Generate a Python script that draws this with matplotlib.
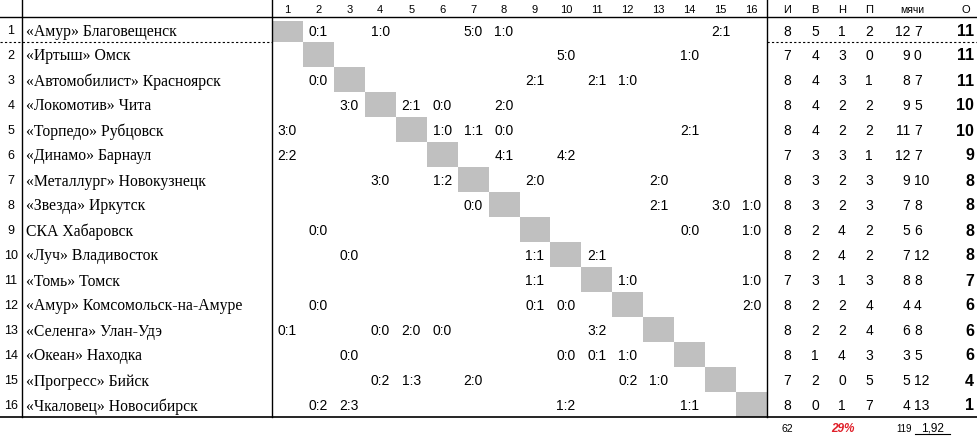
import matplotlib.pyplot as plt

teams = ["«Амур» Благовещенск", "«Иртыш» Омск", "«Автомобилист» Красноярск",
         "«Локомотив» Чита", "«Торпедо» Рубцовск", "«Динамо» Барнаул",
         "«Металлург» Новокузнецк", "«Звезда» Иркутск", "СКА Хабаровск",
         "«Луч» Владивосток", "«Томь» Томск", "«Амур» Комсомольск-на-Амуре",
         "«Селенга» Улан-Удэ", "«Океан» Находка", "«Прогресс» Бийск",
         "«Чкаловец» Новосибирск"]

# (строка, столбец, счёт)
scores = [
    (1, 2, "0:1"), (1, 4, "1:0"), (1, 7, "5:0"), (1, 8, "1:0"), (1, 15, "2:1"),
    (2, 10, "5:0"), (2, 14, "1:0"),
    (3, 2, "0:0"), (3, 9, "2:1"), (3, 11, "2:1"), (3, 12, "1:0"),
    (4, 3, "3:0"), (4, 5, "2:1"), (4, 6, "0:0"), (4, 8, "2:0"),
    (5, 1, "3:0"), (5, 6, "1:0"), (5, 7, "1:1"), (5, 8, "0:0"), (5, 14, "2:1"),
    (6, 1, "2:2"), (6, 8, "4:1"), (6, 10, "4:2"),
    (7, 4, "3:0"), (7, 6, "1:2"), (7, 9, "2:0"), (7, 13, "2:0"),
    (8, 7, "0:0"), (8, 13, "2:1"), (8, 15, "3:0"), (8, 16, "1:0"),
    (9, 2, "0:0"), (9, 14, "0:0"), (9, 16, "1:0"),
    (10, 3, "0:0"), (10, 9, "1:1"), (10, 11, "2:1"),
    (11, 9, "1:1"), (11, 12, "1:0"), (11, 16, "1:0"),
    (12, 2, "0:0"), (12, 9, "0:1"), (12, 10, "0:0"), (12, 16, "2:0"),
    (13, 1, "0:1"), (13, 4, "0:0"), (13, 5, "2:0"), (13, 6, "0:0"), (13, 11, "3:2"),
    (14, 3, "0:0"), (14, 10, "0:0"), (14, 11, "0:1"), (14, 12, "1:0"),
    (15, 4, "0:2"), (15, 5, "1:3"), (15, 7, "2:0"), (15, 12, "0:2"), (15, 13, "1:0"),
    (16, 2, "0:2"), (16, 3, "2:3"), (16, 10, "1:2"), (16, 14, "1:1"),
]

games = [8, 7, 8, 8, 8, 7, 8, 8, 8, 8, 7, 8, 8, 8, 7, 8]
wins = [5, 4, 4, 4, 4, 3, 3, 3, 2, 2, 3, 2, 2, 1, 2, 0]
draws = [1, 3, 3, 2, 2, 3, 2, 2, 4, 4, 1, 2, 2, 4, 0, 1]
losses = [2, 0, 1, 2, 2, 1, 3, 3, 2, 2, 3, 4, 4, 3, 5, 7]
goals_for = [12, 9, 8, 9, 11, 12, 9, 7, 5, 7, 8, 4, 6, 3, 5, 4]
goals_against = [7, 0, 7, 5, 7, 7, 10, 8, 6, 12, 8, 4, 8, 5, 12, 13]
points = [11, 11, 11, 10, 10, 9, 8, 8, 8, 8, 7, 6, 6, 6, 4, 1]

fig = plt.figure(figsize=(9.78, 4.37), dpi=100)
ax = fig.add_axes([0, 0, 1, 1])
ax.set_xlim(0, 978)
ax.set_ylim(437, 0)
ax.axis("off")

sans = "Liberation Sans"
serif = "Liberation Serif"
gx0, cw = 272, 30.94
n = len(teams)
VA = "center_baseline"

def row_top(i):
    return 17 if i == 1 else 42 + (i - 2) * 25

def row_mid(i):
    return 30 if i == 1 else row_top(i) + 12.5

# линии
ax.plot([0, 978], [17, 17], color="black", lw=1)
ax.plot([0, 978], [417, 417], color="black", lw=1.2)
for x in [22, gx0, gx0 + 16 * cw]:
    ax.plot([x, x], [0, 417], color="black", lw=1)
ax.plot([0, gx0], [42, 42], color="black", lw=0.8, ls=(0, (2, 2)))
ax.plot([gx0 + 16 * cw, 978], [42, 42], color="black", lw=0.8, ls=(0, (2, 2)))

# заголовки
for j in range(1, 17):
    ax.text(gx0 + (j - 0.5) * cw, 9, str(j), fontsize=8, family=sans, ha="center", va=VA)
stat_x = [787, 815, 842, 869]
for x, h in zip(stat_x, ["И", "В", "Н", "П"]):
    ax.text(x, 9, h, fontsize=8, family=sans, ha="center", va=VA)
ax.text(912, 9, "мячи", fontsize=7.5, family=sans, ha="center", va=VA)
ax.text(966, 9, "О", fontsize=8, family=sans, ha="center", va=VA)

for i in range(1, n + 1):
    y = row_mid(i)
    ax.text(11, y, str(i), fontsize=9, family=sans, ha="center", va=VA)
    ax.text(26, y, teams[i - 1], fontsize=11.3, family=serif, ha="left", va=VA)
    top = 21 if i == 1 else row_top(i)
    ax.add_patch(plt.Rectangle((gx0 + (i - 1) * cw, top), cw, row_top(i) + 25 - top if i > 1 else 42 - top,
                               color="#c0c0c0", lw=0))
    vals = [games[i - 1], wins[i - 1], draws[i - 1], losses[i - 1]]
    for x, v in zip(stat_x, vals):
        ax.text(x, y, str(v), fontsize=10, family=sans, ha="center", va=VA)
    ax.text(910, y, str(goals_for[i - 1]), fontsize=10, family=sans, ha="right", va=VA)
    ax.text(914, y, str(goals_against[i - 1]), fontsize=10, family=sans, ha="left", va=VA)
    ax.text(974, y, str(points[i - 1]), fontsize=11.5, family=sans, weight="bold", ha="right", va=VA)

for r, c, s in scores:
    ax.text(gx0 + (c - 0.5) * cw, row_mid(r), s, fontsize=10, family=sans, ha="center", va=VA)

# итоги
ax.text(787, 428, "62", fontsize=7.5, family=sans, ha="center", va=VA)
ax.text(843, 428, "29%", fontsize=8.5, family=sans, color="#e0202a", weight="bold", style="italic",
        ha="center", va=VA)
ax.text(904, 428, "119", fontsize=7, family=sans, ha="center", va=VA)
ax.text(932, 427, "1,92", fontsize=8.5, family=sans, ha="center", va=VA)
ax.plot([915, 950], [434, 434], color="black", lw=0.8)

fig.savefig("out.png", dpi=100)
